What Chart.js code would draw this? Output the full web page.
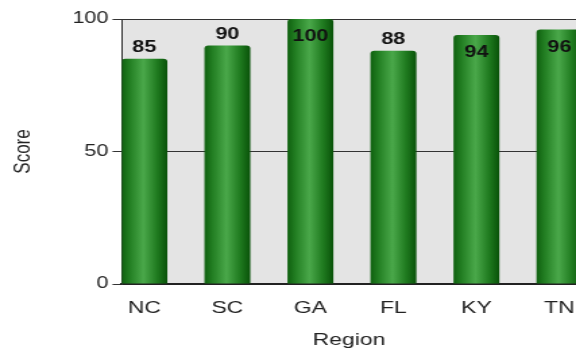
<!DOCTYPE html>
<html>
<head>
<meta charset="utf-8">
<script src="https://cdn.jsdelivr.net/npm/chart.js@4/dist/chart.umd.min.js"></script>
<style>
  html, body { margin: 0; padding: 0; background: #fff; overflow: hidden; }
  /* the reference is stretched sideways, so the canvas is drawn narrow and widened */
  #chart { display: block; transform: scaleX(1.349); transform-origin: 0 0; }
</style>
</head>
<body>
<canvas id="chart" width="427" height="354"></canvas>
<script>
const regions = ['NC', 'SC', 'GA', 'FL', 'KY', 'TN'];
const scores = [85, 90, 100, 88, 94, 96];
const yTicks = [0, 50, 100];

const FONT = "'Liberation Sans', Arial, sans-serif";
const BAR_PCT = 0.553;

// horizontal cylinder shading, built from the x scale of the chart
function barGradient(ctx) {
  const chart = ctx.chart;
  const xs = chart.scales.x;
  if (!chart.chartArea || !xs) return '#2e8b2e';
  const cx = xs.getPixelForValue(ctx.dataIndex);
  const half = (xs.getPixelForValue(1) - xs.getPixelForValue(0)) * BAR_PCT / 2;
  const g = chart.ctx.createLinearGradient(cx - half, 0, cx + half, 0);
  g.addColorStop(0, '#0f600f');
  g.addColorStop(0.18, '#237f23');
  g.addColorStop(0.48, '#4aa84a');
  g.addColorStop(0.78, '#1f7a1f');
  g.addColorStop(1, '#095209');
  return g;
}

const plotBg = {
  id: 'plotBg',
  beforeDraw(chart) {
    const { ctx, chartArea: a } = chart;
    ctx.save();
    ctx.fillStyle = '#e4e4e4';
    ctx.fillRect(a.left, a.top, a.right - a.left, a.bottom - a.top);
    ctx.restore();
  }
};

// value labels: above the bar, or inside it when it gets close to the top
const valueLabels = {
  id: 'valueLabels',
  afterDatasetsDraw(chart) {
    const { ctx, chartArea: a } = chart;
    const meta = chart.getDatasetMeta(0);
    ctx.save();
    ctx.font = 'bold 16px ' + FONT;
    ctx.fillStyle = '#111';
    ctx.textAlign = 'center';
    ctx.textBaseline = 'alphabetic';
    meta.data.forEach((bar, i) => {
      const top = bar.y;
      const y = (top - a.top) < 20 ? top + 22 : top - 7;
      ctx.fillText(String(scores[i]), bar.x, y);
    });
    ctx.restore();
  }
};

new Chart(document.getElementById('chart'), {
  type: 'bar',
  data: {
    datasets: [{
      data: scores.map((v, i) => ({ x: i, y: v })),
      backgroundColor: barGradient,
      borderWidth: 0,
      borderRadius: 3,
      categoryPercentage: 1,
      barPercentage: BAR_PCT,
    }]
  },
  options: {
    responsive: false,
    animation: false,
    layout: { padding: { top: 19, right: 0, bottom: 0, left: 0 } },
    plugins: { legend: { display: false }, tooltip: { enabled: false } },
    scales: {
      x: {
        type: 'linear',
        offset: false,
        min: -0.27,
        max: 5.2,
        afterBuildTicks: s => { s.ticks = regions.map((_, i) => ({ value: i })); },
        afterFit: s => { s.height = 70; s.paddingLeft = 0; s.paddingRight = 0; },
        grid: { display: false, drawTicks: false, offset: false },
        border: { display: true, color: '#222', width: 2 },
        ticks: {
          autoSkip: false,
          maxRotation: 0,
          padding: 14,
          color: '#222',
          font: { family: FONT, size: 17 },
          callback: v => regions[v] ?? '',
        },
        title: {
          display: true,
          text: 'Region',
          color: '#222',
          font: { family: FONT, size: 17 },
          padding: { top: 0, bottom: 3 },
        },
      },
      y: {
        min: 0,
        max: 100,
        afterBuildTicks: s => { s.ticks = yTicks.map(v => ({ value: v })); },
        afterFit: s => { s.width = 90.4; s.paddingTop = 0; s.paddingBottom = 0; },
        grid: { color: '#333', lineWidth: 1, tickLength: 7 },
        border: { display: true, color: '#333', width: 1 },
        ticks: {
          padding: 3,
          color: '#222',
          font: { family: FONT, size: 16 },
        },
        title: {
          display: true,
          text: 'Score',
          color: '#222',
          font: { family: FONT, size: 17 },
          padding: { top: 7, bottom: 0 },
        },
      },
    },
  },
  plugins: [plotBg, valueLabels],
});
</script>
</body>
</html>
